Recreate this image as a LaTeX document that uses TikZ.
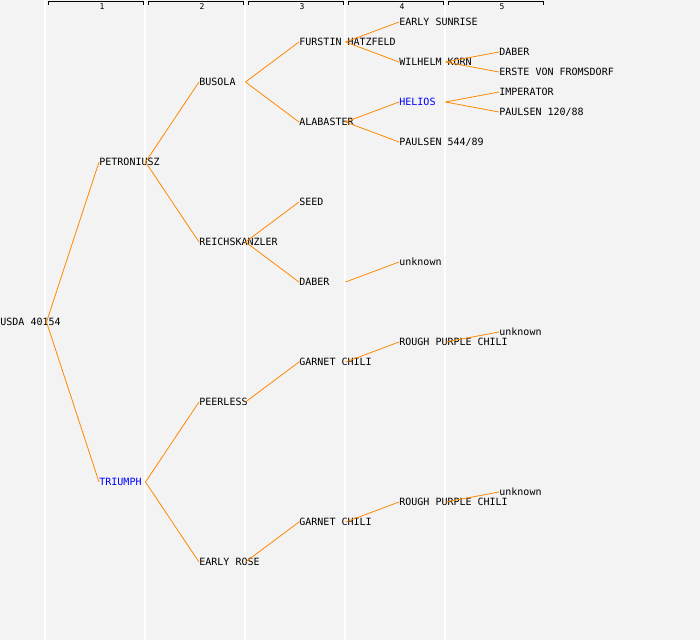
\documentclass[tikz,border=0pt]{standalone}
\usepackage{fontspec}
\setmonofont{DejaVu Sans Mono}
\usepackage{tikz}
\usetikzlibrary{calc, positioning}
\definecolor{pedline}{RGB}{255,136,0}
\definecolor{pedbg}{RGB}{243,243,243}
\definecolor{pedblue}{RGB}{0,0,255}

\begin{document}
\begin{tikzpicture}[x=1pt,y=-1pt,line width=0.8pt]
    \tikzstyle{every node}=[font=\ttfamily\fontsize{10}{12}\selectfont,inner sep=0pt,anchor=west,text height=8pt,text depth=2pt]
    \tikzstyle{link}=[draw=pedline,line width=0.8pt]
    \tikzstyle{hl}=[text=pedblue]
    \tikzstyle{gen}=[font=\ttfamily\fontsize{8}{9}\selectfont,anchor=center,text height=6pt,text depth=0pt]

      \fill[pedbg] (0,0) rectangle (700,640);
      \useasboundingbox (0,0) rectangle (700,640);
      \foreach \x in {45,145,...,445}
        \draw[white,line width=1.2pt] (\x,0) -- (\x,640);
      % generation headers
      \foreach \g in {1,...,5} {
        \draw[black,line width=0.9pt] (\g*100-52,4.5) -- (\g*100-52,1.5) -- (\g*100+43,1.5) -- (\g*100+43,4.5);
        \node[gen] (gen\g) at (\g*100+2,6.5) {\g};
      }

      \node (usda)     at (0,322)   {USDA 40154};
      \node (petr)     at (99,162)  {PETRONIUSZ};
      \node[hl] (triumph) at (99,482) {TRIUMPH};
      \node (busola)   at (199,82)  {BUSOLA};
      \node (reich)    at (199,242) {REICHSKANZLER};
      \node (peerless) at (199,402) {PEERLESS};
      \node (erose)    at (199,562) {EARLY ROSE};
      \node (furstin)  at (299,42)  {FURSTIN HATZFELD};
      \node (alab)     at (299,122) {ALABASTER};
      \node (seed)     at (299,202) {SEED};
      \node (daberA)   at (299,282) {DABER};
      \node (garnetA)  at (299,362) {GARNET CHILI};
      \node (garnetB)  at (299,522) {GARNET CHILI};
      \node (sunrise)  at (399,22)  {EARLY SUNRISE};
      \node (korn)     at (399,62)  {WILHELM KORN};
      \node[hl] (helios) at (399,102) {HELIOS};
      \node (paulsenA) at (399,142) {PAULSEN 544/89};
      \node (unkA)     at (399,262) {unknown};
      \node (roughA)   at (399,342) {ROUGH PURPLE CHILI};
      \node (roughB)   at (399,502) {ROUGH PURPLE CHILI};
      \node (daberB)   at (499,52)  {DABER};
      \node (erste)    at (499,72)  {ERSTE VON FROMSDORF};
      \node (imper)    at (499,92)  {IMPERATOR};
      \node (paulsenB) at (499,112) {PAULSEN 120/88};
      \node (unkB)     at (499,332) {unknown};
      \node (unkC)     at (499,492) {unknown};

      \draw[link] ([xshift=46.5pt]usda.west)    -- (petr.west);
      \draw[link] ([xshift=46.5pt]usda.west)    -- (triumph.west);
      \draw[link] ([xshift=46.5pt]petr.west)    -- (busola.west);
      \draw[link] ([xshift=46.5pt]petr.west)    -- (reich.west);
      \draw[link] ([xshift=46.5pt]triumph.west) -- (peerless.west);
      \draw[link] ([xshift=46.5pt]triumph.west) -- (erose.west);
      \draw[link] ([xshift=46.5pt]busola.west)  -- (furstin.west);
      \draw[link] ([xshift=46.5pt]busola.west)  -- (alab.west);
      \draw[link] ([xshift=46.5pt]reich.west)   -- (seed.west);
      \draw[link] ([xshift=46.5pt]reich.west)   -- (daberA.west);
      \draw[link] ([xshift=46.5pt]peerless.west) -- (garnetA.west);
      \draw[link] ([xshift=46.5pt]erose.west)   -- (garnetB.west);
      \draw[link] ([xshift=46.5pt]furstin.west) -- (sunrise.west);
      \draw[link] ([xshift=46.5pt]furstin.west) -- (korn.west);
      \draw[link] ([xshift=46.5pt]alab.west)    -- (helios.west);
      \draw[link] ([xshift=46.5pt]alab.west)    -- (paulsenA.west);
      \draw[link] ([xshift=46.5pt]daberA.west)  -- (unkA.west);
      \draw[link] ([xshift=46.5pt]garnetA.west) -- (roughA.west);
      \draw[link] ([xshift=46.5pt]garnetB.west) -- (roughB.west);
      \draw[link] ([xshift=46.5pt]korn.west)    -- (daberB.west);
      \draw[link] ([xshift=46.5pt]korn.west)    -- (erste.west);
      \draw[link] ([xshift=46.5pt]helios.west)  -- (imper.west);
      \draw[link] ([xshift=46.5pt]helios.west)  -- (paulsenB.west);
      \draw[link] ([xshift=46.5pt]roughA.west)  -- (unkB.west);
      \draw[link] ([xshift=46.5pt]roughB.west)  -- (unkC.west);
\end{tikzpicture}
\end{document}
